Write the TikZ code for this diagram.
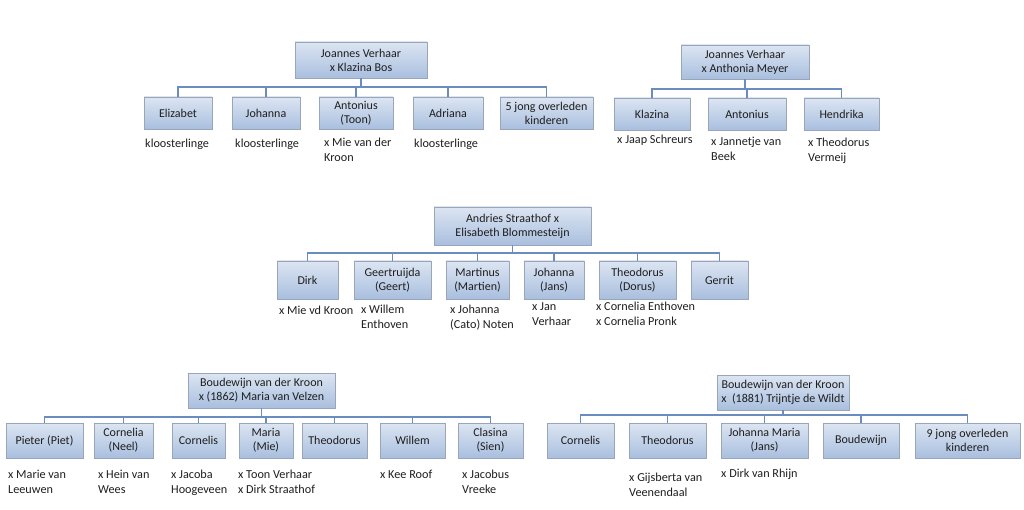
\documentclass[tikz,border=0pt]{standalone}
\usepackage{fontspec}
\setmainfont{Carlito}
\usetikzlibrary{shadows}
\definecolor{boxtop}{HTML}{DCE5F2}
\definecolor{boxbot}{HTML}{A9BFDF}
\definecolor{boxline}{HTML}{9AA6B8}
\definecolor{conn}{HTML}{6A8CC0}
\definecolor{txt}{HTML}{1E1E1E}
\tikzset{
  box/.style={draw=boxline, line width=0.7pt, top color=boxtop, bottom color=boxbot,
    align=center, inner sep=0pt, text=txt,
    font=\fontsize{12}{14}\selectfont,
    drop shadow={shadow xshift=1.2pt, shadow yshift=-1.2pt, opacity=0.25, fill=black}},
  lab/.style={anchor=north west, align=left, inner sep=0pt, text=txt,
    font=\fontsize{12.2}{15}\selectfont},
  link/.style={draw=conn, line width=1.8pt},
}
\newcommand{\bx}[6]{\node[box, minimum width=#4pt, minimum height=#5pt] (#1) at (#2,#3) {#6};}
\begin{document}
\begin{tikzpicture}[x=1pt,y=-1pt]
\useasboundingbox (0,0) rectangle (1024,510);
\coordinate (b1) at (0,87);
\coordinate (b2) at (0,89);
\coordinate (b3) at (0,253);
\coordinate (b4) at (0,417);
\coordinate (b5) at (0,415);
% ---------- Tree 1
\bx{p1}{361}{60}{132}{36}{Joannes Verhaar\\x Klazina Bos}
\bx{a1}{178}{113}{68}{32}{Elizabet}
\bx{a2}{266}{113}{68}{32}{Johanna}
\bx{a3}{356}{113}{74}{32}{Antonius\\(Toon)}
\bx{a4}{448}{113}{70}{32}{Adriana}
\bx{a5}{546.5}{113}{93}{32}{5 jong overleden\\kinderen}
\node[lab] (la1) at (145,139) {kloosterlinge};
\node[lab] (la2) at (235,139) {kloosterlinge};
\node[lab] (la3) at (324,138) {x Mie van der\\Kroon};
\node[lab] (la4) at (414,139) {kloosterlinge};
% ---------- Tree 2
\bx{p2}{745}{62}{128}{34}{Joannes Verhaar\\x Anthonia Meyer}
\bx{c1}{652}{114}{76}{32}{Klazina}
\bx{c2}{747}{114}{78}{32}{Antonius}
\bx{c3}{841.5}{114}{75}{32}{Hendrika}
\node[lab] (lc1) at (617,135) {x Jaap Schreurs};
\node[lab] (lc2) at (711,137) {x Jannetje van\\Beek};
\node[lab] (lc3) at (808,138) {x Theodorus\\Vermeij};
% ---------- Tree 3
\bx{p3}{512.5}{226}{157}{38}{Andries Straathof x\\Elisabeth Blommesteijn}
\bx{d1}{307.5}{280}{61}{38}{Dirk}
\bx{d2}{392.5}{280}{77}{38}{Geertruijda\\(Geert)}
\bx{d3}{477.5}{280}{63}{38}{Martinus\\(Martien)}
\bx{d4}{554}{280}{60}{38}{Johanna\\(Jans)}
\bx{d5}{637.5}{280}{77}{38}{Theodorus\\(Dorus)}
\bx{d6}{719.5}{280}{57}{38}{Gerrit}
\node[lab] (ld1) at (279,306) {x Mie vd Kroon};
\node[lab] (ld2) at (361,305) {x Willem\\Enthoven};
\node[lab] (ld3) at (450,305) {x Johanna\\(Cato) Noten};
\node[lab] (ld4) at (532,302) {x Jan\\Verhaar};
\node[lab] (ld5) at (596,302) {x Cornelia Enthoven\\x Cornelia Pronk};
% ---------- Tree 4
\bx{p4}{261.5}{390.5}{147}{35}{Boudewijn van der Kroon\\x (1862) Maria van Velzen}
\bx{e1}{44.5}{440.5}{77}{35}{Pieter (Piet)}
\bx{e2}{123.5}{440.5}{59}{35}{Cornelia\\(Neel)}
\bx{e3}{198.5}{440.5}{53}{35}{Cornelis}
\bx{e4}{266}{440.5}{54}{35}{Maria\\(Mie)}
\bx{e5}{334.5}{440.5}{65}{35}{Theodorus}
\bx{e6}{412.5}{440.5}{65}{35}{Willem}
\bx{e7}{490.5}{440.5}{65}{35}{Clasina\\(Sien)}
\node[lab] (le1) at (8,470) {x Marie van\\Leeuwen};
\node[lab] (le2) at (98,470) {x Hein van\\Wees};
\node[lab] (le3) at (171,470) {x Jacoba\\Hoogeveen};
\node[lab] (le4) at (238,470) {x Toon Verhaar\\x Dirk Straathof};
\node[lab] (le6) at (380,470) {x Kee Roof};
\node[lab] (le7) at (462,470) {x Jacobus\\Vreeke};
% ---------- Tree 5
\bx{p5}{783}{392.5}{132}{35}{Boudewijn van der Kroon\\x~~(1881) Trijntje de Wildt}
\bx{f1}{580.5}{440.5}{67}{35}{Cornelis}
\bx{f2}{667.5}{440.5}{77}{35}{Theodorus}
\bx{f3}{764.5}{440.5}{87}{35}{Johanna Maria\\(Jans)}
\bx{f4}{861}{440.5}{76}{35}{Boudewijn}
\bx{f5}{967.5}{440.5}{105}{35}{9 jong overleden\\kinderen}
\node[lab] (lf2) at (629,473) {x Gijsberta van\\Veenendaal};
\node[lab] (lf3) at (721,469) {x Dirk van Rhijn};
% ---------- connectors
\foreach \c in {a1,a2,a3,a4,a5} \draw[link] (p1.south) -- (p1.south |- b1) -| (\c.north);
\foreach \c in {c1,c2,c3} \draw[link] (p2.south) -- (p2.south |- b2) -| (\c.north);
\foreach \c in {d1,d2,d3,d4,d5,d6} \draw[link] (p3.south) -- (p3.south |- b3) -| (\c.north);
\foreach \c in {e1,e2,e3,e4,e5,e6,e7} \draw[link] (p4.south) -- (p4.south |- b4) -| (\c.north);
\foreach \c in {f1,f2,f3,f4,f5} \draw[link] (p5.south) -- (p5.south |- b5) -| (\c.north);
\end{tikzpicture}
\end{document}
